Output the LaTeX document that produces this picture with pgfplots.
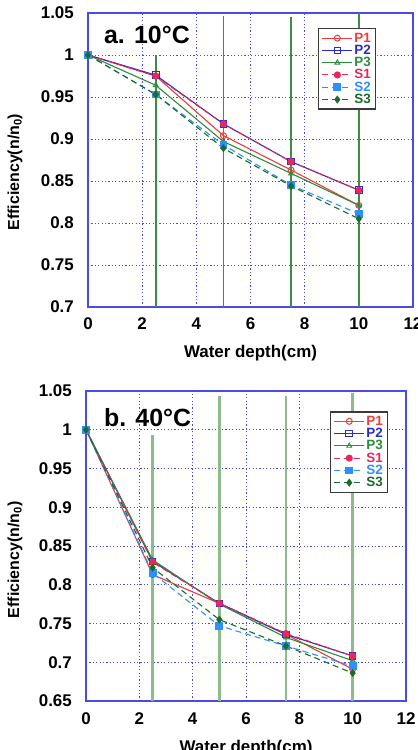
\documentclass[border=0pt]{standalone}
\usepackage{pgfplots}
\pgfplotsset{compat=1.18}
\usepackage{fontspec}
\setmainfont{Liberation Sans}

\definecolor{cP1}{HTML}{EE3B3B}
\definecolor{cP2}{HTML}{2B2BC8}
\definecolor{cP3}{HTML}{2E8B3E}
\definecolor{cS1}{HTML}{E8285C}
\definecolor{cS2}{HTML}{2F8FFF}
\definecolor{cS3}{HTML}{1B6B2A}
\definecolor{axblue}{HTML}{4A4AE6}
\definecolor{gridblue}{HTML}{4B4BD8}
\definecolor{vgreenA}{HTML}{3E8C46}
\definecolor{vgreenB}{HTML}{8DBB8D}
\definecolor{legframe}{HTML}{3A3A3A}

\pgfplotsset{
  panel/.style={
    scale only axis,
    xmin=0, xmax=12, xtick={0,2,...,12},
    axis line style={axblue, line width=1.6bp},
    grid=major,
    grid style={gridblue, line width=0.9bp, dash pattern=on 1.2bp off 2.2bp},
    major tick length=0pt,
    tick label style={font=\fontsize{17}{17}\selectfont\bfseries},
    /pgf/number format/assume math mode=true,
    xticklabel style={anchor=base, inner sep=0pt, yshift=-23bp},
    yticklabel style={anchor=east, inner sep=0pt, xshift=-14bp},
    xlabel={Water depth(cm)},
    ylabel={Efficiency(n/n\textsubscript{0})},
    xlabel style={at={(axis description cs:0.5,0)}, anchor=base, yshift=-51bp,
      font=\fontsize{17}{17}\selectfont\bfseries},
    ylabel style={font=\fontsize{16}{16}\selectfont\bfseries, anchor=center, rotate=0},
    legend cell align=left,
    legend image code/.code={%
      \draw[mark repeat=2, mark phase=2, #1] plot coordinates {(0bp,0bp) (15bp,0bp) (30bp,0bp)};},
    legend style={draw=legframe, line width=1.4bp, fill=white,
      font=\fontsize{13.5}{13.5}\selectfont\bfseries,
      inner xsep=3bp, inner ysep=2.5bp, row sep=-1.8bp,
      nodes={inner sep=1.6bp}},
  },
  sP1/.style={cP1, line width=1.1bp, mark=o, mark size=3bp, mark options={solid, line width=1bp}},
  sP2/.style={cP2, line width=1.1bp, mark=square, mark size=3.3bp, mark options={solid, line width=1bp}},
  sP3/.style={cP3, line width=1.1bp, mark=triangle, mark size=2.8bp, mark options={solid, line width=0.9bp}},
  sS1/.style={cS1, line width=1.1bp, dash pattern=on 6bp off 4bp, mark=*, mark size=3bp, mark options={solid}},
  sS2/.style={cS2, line width=1.1bp, dash pattern=on 6bp off 4bp, mark=square*, mark size=3.3bp, mark options={solid}},
  sS3/.style={cS3, line width=1.1bp, dash pattern=on 6bp off 4bp, mark=diamond*, mark size=3.2bp, mark options={solid}},
}

\begin{document}
\begin{tikzpicture}
\path[use as bounding box] (0bp,0bp) rectangle (418bp,750bp);

% ---------- a. 10 C ----------
\begin{axis}[panel,
  at={(88bp,443bp)}, anchor=south west,
  width=325bp, height=294bp,
  ymin=0.7, ymax=1.05,
  ytick={0.7,0.75,0.8,0.85,0.9,0.95,1,1.05},
  yticklabels={0.7,0.75,0.8,0.85,0.9,0.95,1,1.05},
  ylabel style={at={(axis description cs:-0.2246,0.459)}},
  legend style={at={(rel axis cs:0.708,0.949)}, anchor=north west},
]
\addplot[vgreenA, line width=1.7bp, forget plot] coordinates {(2.5,0.7) (2.5,1.0)};
\addplot[vgreenA, line width=1.7bp, forget plot] coordinates {(5,0.7) (5,1.047)};
\addplot[vgreenA, line width=1.7bp, forget plot] coordinates {(7.5,0.7) (7.5,1.045)};
\addplot[vgreenA, line width=1.7bp, forget plot] coordinates {(10,0.7) (10,1.05)};

\addplot[sP1] coordinates {(0,1.0) (2.5,0.975) (5,0.904) (7.5,0.863) (10,0.821)};
\addlegendentry{\textcolor{cP1}{P1}}
\addplot[sP2] coordinates {(0,1.0) (2.5,0.976) (5,0.918) (7.5,0.873) (10,0.839)};
\addlegendentry{\textcolor{cP2}{P2}}
\addplot[sP3] coordinates {(0,1.0) (2.5,0.964) (5,0.897) (7.5,0.859) (10,0.821)};
\addlegendentry{\textcolor{cP3}{P3}}
\addplot[sS1] coordinates {(0,1.0) (2.5,0.975) (5,0.918) (7.5,0.873) (10,0.839)};
\addlegendentry{\textcolor{cS1}{S1}}
\addplot[sS2] coordinates {(0,1.0) (2.5,0.953) (5,0.893) (7.5,0.845) (10,0.811)};
\addlegendentry{\textcolor{cS2}{S2}}
\addplot[sS3] coordinates {(0,1.0) (2.5,0.953) (5,0.889) (7.5,0.844) (10,0.805)};
\addlegendentry{\textcolor{cS3}{S3}}

\node[anchor=base west, inner sep=0pt, font=\fontsize{25}{25}\selectfont\bfseries]
  at (rel axis cs:0.049,0.895) {a. 10°C};
\end{axis}

% ---------- b. 40 C ----------
\begin{axis}[panel,
  at={(86bp,49bp)}, anchor=south west,
  width=320bp, height=310bp,
  ymin=0.65, ymax=1.05,
  ytick={0.65,0.7,0.75,0.8,0.85,0.9,0.95,1,1.05},
  yticklabels={0.65,0.7,0.75,0.8,0.85,0.9,0.95,1,1.05},
  ylabel style={at={(axis description cs:-0.222,0.455)}},
  legend style={at={(rel axis cs:0.7625,0.935)}, anchor=north west},
]
\addplot[vgreenB, line width=2.6bp, forget plot] coordinates {(2.5,0.65) (2.5,0.993)};
\addplot[vgreenB, line width=2.6bp, forget plot] coordinates {(5,0.65) (5,1.044)};
\addplot[vgreenB, line width=2.6bp, forget plot] coordinates {(7.5,0.65) (7.5,1.044)};
\addplot[vgreenB, line width=2.6bp, forget plot] coordinates {(10,0.65) (10,1.047)};

\addplot[sP1] coordinates {(0,1.0) (2.5,0.813) (5,0.776) (7.5,0.736) (10,0.691)};
\addlegendentry{\textcolor{cP1}{P1}}
\addplot[sP2] coordinates {(0,1.0) (2.5,0.830) (5,0.776) (7.5,0.736) (10,0.708)};
\addlegendentry{\textcolor{cP2}{P2}}
\addplot[sP3] coordinates {(0,1.0) (2.5,0.832) (5,0.775) (7.5,0.732) (10,0.702)};
\addlegendentry{\textcolor{cP3}{P3}}
\addplot[sS1] coordinates {(0,1.0) (2.5,0.829) (5,0.776) (7.5,0.737) (10,0.708)};
\addlegendentry{\textcolor{cS1}{S1}}
\addplot[sS2] coordinates {(0,1.0) (2.5,0.815) (5,0.747) (7.5,0.721) (10,0.695)};
\addlegendentry{\textcolor{cS2}{S2}}
\addplot[sS3] coordinates {(0,1.0) (2.5,0.822) (5,0.755) (7.5,0.721) (10,0.686)};
\addlegendentry{\textcolor{cS3}{S3}}

\node[anchor=base west, inner sep=0pt, font=\fontsize{25}{25}\selectfont\bfseries]
  at (rel axis cs:0.056,0.884) {b. 40°C};
\end{axis}
\end{tikzpicture}
\end{document}
